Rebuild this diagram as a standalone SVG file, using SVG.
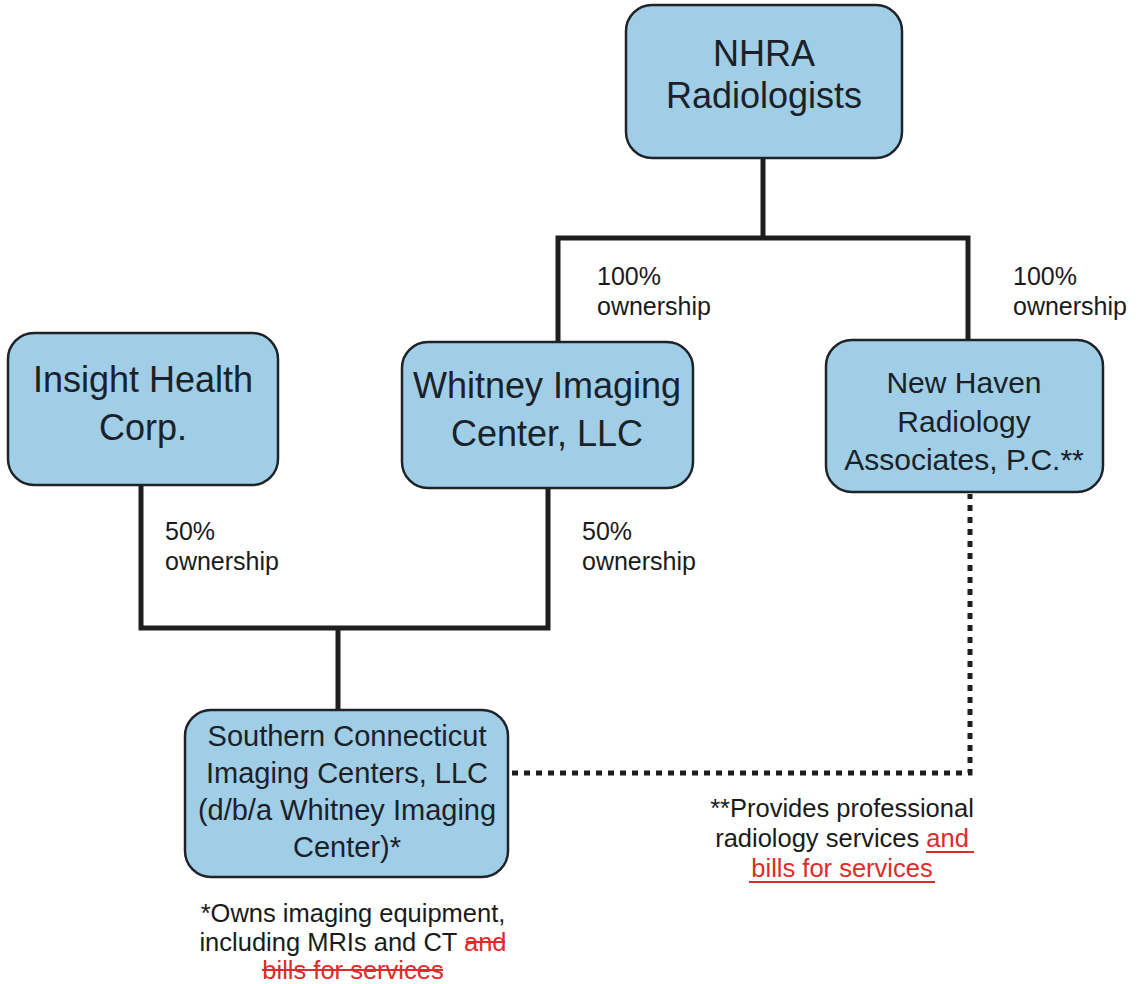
<svg xmlns="http://www.w3.org/2000/svg" width="1141" height="984" viewBox="0 0 1141 984">
<style>
.box{fill:#9fcee6;stroke:#1f2328;stroke-width:2.5}
.bt{font-family:"Liberation Sans",Arial,sans-serif;fill:#1b2129;text-anchor:middle}
.lbl{font-family:"Liberation Sans",Arial,sans-serif;fill:#1a1a1a;font-size:25px}
.note{font-family:"Liberation Sans",Arial,sans-serif;fill:#1a1a1a;font-size:25.5px;text-anchor:middle}
.red{fill:#e02b2b}
.conn{fill:none;stroke:#1e1e1e;stroke-width:5;stroke-linecap:square}
.dot{fill:none;stroke:#1e1e1e;stroke-width:5;stroke-dasharray:6 6}
.ul{stroke:#e02b2b;stroke-width:2}
</style>
<rect width="1141" height="984" fill="#ffffff"/>
<g id="connectors">
<path class="conn" d="M763,158 V238 M558,238 H968 M558,238 V342 M968,238 V340"/>
<path class="conn" d="M141,485 V628 M548,488 V628 M141,628 H548 M338,628 V710"/>
<path class="dot" d="M512,773 H970 V494"/>
</g>
<g id="nhra">
<rect class="box" x="626" y="5" width="276" height="153" rx="26"/>
<text class="bt" font-size="36"><tspan x="764" y="66">NHRA</tspan><tspan x="764" y="108">Radiologists</tspan></text>
</g>
<g id="insight">
<rect class="box" x="8" y="333" width="270" height="152" rx="26"/>
<text class="bt" font-size="36"><tspan x="143" y="392">Insight Health</tspan><tspan x="143" y="440">Corp.</tspan></text>
</g>
<g id="whitney">
<rect class="box" x="402" y="342" width="291" height="146" rx="26"/>
<text class="bt" font-size="36"><tspan x="547" y="398">Whitney Imaging</tspan><tspan x="547" y="446">Center, LLC</tspan></text>
</g>
<g id="newhaven">
<rect class="box" x="826" y="340" width="277" height="152" rx="26"/>
<text class="bt" font-size="30"><tspan x="964" y="393">New Haven</tspan><tspan x="964" y="432">Radiology</tspan><tspan x="964" y="470">Associates, P.C.**</tspan></text>
</g>
<g id="southern">
<rect class="box" x="185" y="710" width="323" height="167" rx="26"/>
<text class="bt" font-size="29"><tspan x="347" y="746">Southern Connecticut</tspan><tspan x="347" y="783">Imaging Centers, LLC</tspan><tspan x="347" y="820">(d/b/a Whitney Imaging</tspan><tspan x="347" y="857">Center)*</tspan></text>
</g>
<g id="labels">
<text class="lbl"><tspan x="597" y="285">100%</tspan><tspan x="597" y="315">ownership</tspan></text>
<text class="lbl"><tspan x="1013" y="285">100%</tspan><tspan x="1013" y="315">ownership</tspan></text>
<text class="lbl"><tspan x="165" y="540">50%</tspan><tspan x="165" y="570">ownership</tspan></text>
<text class="lbl"><tspan x="582" y="540">50%</tspan><tspan x="582" y="570">ownership</tspan></text>
</g>
<g id="note-right">
<text class="note"><tspan x="842" y="817">**Provides professional</tspan><tspan x="842" y="847">radiology services <tspan class="red">and</tspan></tspan><tspan x="842" y="877" class="red">bills for services</tspan></text>
<path class="ul" d="M926,852 H974 M749,882 H935"/>
</g>
<g id="note-left">
<text class="note"><tspan x="353" y="922">*Owns imaging equipment,</tspan><tspan x="353" y="951">including MRIs and CT <tspan class="red">and</tspan></tspan><tspan x="353" y="979" class="red">bills for services</tspan></text>
<path class="ul" d="M466,942 H505 M262,970 H443"/>
</g>
</svg>
